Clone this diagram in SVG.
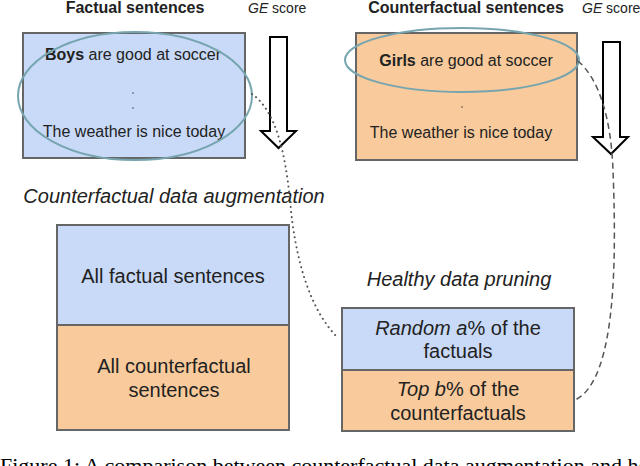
<svg xmlns="http://www.w3.org/2000/svg" width="640" height="466" viewBox="0 0 640 466">
<style>
text{font-family:"Liberation Sans",Arial,sans-serif;fill:#222}
.t{font-size:16px;text-anchor:middle}
.b{font-size:20px;text-anchor:middle}
.h{font-size:16px;font-weight:bold;text-anchor:middle}
.g{font-size:14px}
.i{font-style:italic}
.blue{fill:#c9daf8;stroke:#666;stroke-width:2}
.orange{fill:#f9cb9c;stroke:#666;stroke-width:2}
.ell{fill:none;stroke:#76a5af;stroke-width:2}
.arr{fill:#fff;stroke:#000;stroke-width:2;stroke-linejoin:miter}
.cap{font-family:"Liberation Serif","Times New Roman",serif;font-size:22px;fill:#000}
</style>
<rect width="640" height="466" fill="#fff"/>
<g id="factual">
<text class="h" x="135" y="13">Factual sentences</text>
<rect class="blue" x="23" y="33" width="222" height="125"/>
<text class="t" x="133" y="60"><tspan font-weight="bold">Boys</tspan> are good at soccer</text>
<circle cx="133" cy="93" r="0.8" fill="#444"/>
<circle cx="133" cy="108" r="0.8" fill="#444"/>
<text class="t" x="134" y="137">The weather is nice today</text>
<ellipse class="ell" cx="135" cy="96" rx="117" ry="64"/>
</g>
<g id="ge1">
<text class="g" x="248" y="13"><tspan class="i">GE</tspan> score</text>
<polygon class="arr" points="270,37 287,37 287,131 296,131 278.5,148 261,131 270,131"/>
</g>
<g id="counterfactual">
<text class="h" x="466" y="13">Counterfactual sentences</text>
<rect class="orange" x="356" y="33" width="221" height="127"/>
<text class="t" x="466" y="66"><tspan font-weight="bold">Girls</tspan> are good at soccer</text>
<circle cx="462" cy="92" r="0.8" fill="#444"/>
<circle cx="462" cy="107" r="0.8" fill="#444"/>
<text class="t" x="461" y="138">The weather is nice today</text>
<ellipse class="ell" cx="462" cy="60" rx="117" ry="32"/>
</g>
<g id="ge2">
<text class="g" x="582" y="13"><tspan class="i">GE</tspan> score</text>
<polygon class="arr" points="603,42 620,42 620,137 628,137 611,154 593,137 603,137"/>
</g>
<g id="cda">
<text class="b i" x="174" y="203">Counterfactual data augmentation</text>
<rect class="blue" x="57" y="225" width="232" height="100"/>
<rect class="orange" x="57" y="325" width="232" height="105"/>
<text class="b" x="173" y="283">All factual sentences</text>
<text class="b" x="174" y="373">All counterfactual</text>
<text class="b" x="174" y="397">sentences</text>
</g>
<g id="pruning">
<text class="b i" x="459" y="286">Healthy data pruning</text>
<rect class="blue" x="342" y="308" width="232" height="62"/>
<rect class="orange" x="342" y="370" width="232" height="61"/>
<text class="b" x="458" y="335"><tspan class="i">Random a</tspan>% of the</text>
<text class="b" x="458" y="358">factuals</text>
<text class="b" x="458" y="396"><tspan class="i">Top b</tspan>% of the</text>
<text class="b" x="458" y="420">counterfactuals</text>
</g>
<g id="connectors" fill="none" stroke="#555" stroke-width="1.5">
<path d="M252,94 C275,110 285,150 290,200 C295,260 310,310 338,338" stroke-dasharray="0.1,5" stroke-linecap="round" stroke-width="2"/>
<path d="M578,61 C600,80 611,120 613,170 C616,250 618,380 575,400" stroke-dasharray="6,4"/>
</g>
<text class="cap" x="0" y="473">Figure 1: A comparison between counterfactual data augmentation and healthy data pruning</text>
</svg>
